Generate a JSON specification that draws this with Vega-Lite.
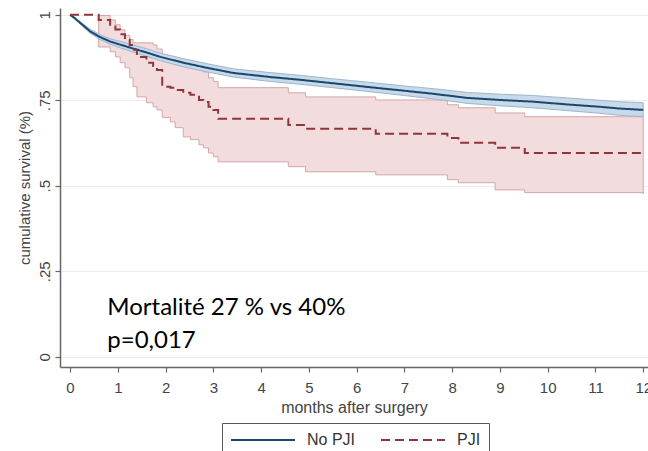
{
  "$schema": "https://vega.github.io/schema/vega-lite/v6.json",
  "width": 588,
  "height": 359,
  "autosize": {"type": "none"},
  "padding": {"left": 60, "top": 8, "right": 0, "bottom": 84},
  "background": "white",
  "config": {
    "view": {"stroke": null},
    "font": "Liberation Sans",
    "axis": {
      "labelFont": "Liberation Sans",
      "titleFont": "Liberation Sans",
      "labelFontSize": 15,
      "titleFontSize": 15,
      "labelColor": "#444",
      "titleColor": "#444",
      "titleFontWeight": "normal",
      "domainColor": "#666",
      "domainWidth": 1.5,
      "tickColor": "#666",
      "tickWidth": 1.2,
      "tickSize": 5
    }
  },
  "datasets": {
    "nopji": [
      {"group": "No PJI", "t": 0, "s": 1.0, "lo": 1.0, "hi": 1.0},
      {"group": "No PJI", "t": 0.1, "s": 0.99, "lo": 0.988, "hi": 0.992},
      {"group": "No PJI", "t": 0.25, "s": 0.972, "lo": 0.968, "hi": 0.976},
      {"group": "No PJI", "t": 0.42, "s": 0.952, "lo": 0.946, "hi": 0.958},
      {"group": "No PJI", "t": 0.63, "s": 0.935, "lo": 0.928, "hi": 0.942},
      {"group": "No PJI", "t": 0.84, "s": 0.922, "lo": 0.914, "hi": 0.930},
      {"group": "No PJI", "t": 1.0, "s": 0.915, "lo": 0.906, "hi": 0.924},
      {"group": "No PJI", "t": 1.26, "s": 0.904, "lo": 0.894, "hi": 0.914},
      {"group": "No PJI", "t": 1.6, "s": 0.89, "lo": 0.879, "hi": 0.901},
      {"group": "No PJI", "t": 1.89, "s": 0.877, "lo": 0.866, "hi": 0.888},
      {"group": "No PJI", "t": 2.37, "s": 0.86, "lo": 0.848, "hi": 0.872},
      {"group": "No PJI", "t": 2.87, "s": 0.845, "lo": 0.833, "hi": 0.857},
      {"group": "No PJI", "t": 3.42, "s": 0.83, "lo": 0.818, "hi": 0.842},
      {"group": "No PJI", "t": 4.2, "s": 0.818, "lo": 0.805, "hi": 0.831},
      {"group": "No PJI", "t": 4.82, "s": 0.81, "lo": 0.797, "hi": 0.823},
      {"group": "No PJI", "t": 5.5, "s": 0.8, "lo": 0.787, "hi": 0.813},
      {"group": "No PJI", "t": 6.23, "s": 0.789, "lo": 0.776, "hi": 0.803},
      {"group": "No PJI", "t": 7.0, "s": 0.778, "lo": 0.764, "hi": 0.792},
      {"group": "No PJI", "t": 7.61, "s": 0.769, "lo": 0.754, "hi": 0.784},
      {"group": "No PJI", "t": 8.32, "s": 0.757, "lo": 0.741, "hi": 0.773},
      {"group": "No PJI", "t": 9.0, "s": 0.751, "lo": 0.734, "hi": 0.768},
      {"group": "No PJI", "t": 9.7, "s": 0.746, "lo": 0.728, "hi": 0.764},
      {"group": "No PJI", "t": 10.4, "s": 0.738, "lo": 0.720, "hi": 0.757},
      {"group": "No PJI", "t": 11.1, "s": 0.731, "lo": 0.712, "hi": 0.750},
      {"group": "No PJI", "t": 11.5, "s": 0.726, "lo": 0.706, "hi": 0.746},
      {"group": "No PJI", "t": 12.0, "s": 0.722, "lo": 0.702, "hi": 0.743}
    ],
    "pji": [
      {"group": "PJI", "t": 0, "s": 1.0, "lo": null, "hi": null},
      {"group": "PJI", "t": 0.6, "s": 0.985, "lo": 0.906, "hi": 0.998},
      {"group": "PJI", "t": 0.84, "s": 0.971, "lo": 0.892, "hi": 0.985},
      {"group": "PJI", "t": 0.95, "s": 0.957, "lo": 0.877, "hi": 0.971},
      {"group": "PJI", "t": 1.05, "s": 0.943, "lo": 0.86, "hi": 0.956},
      {"group": "PJI", "t": 1.15, "s": 0.927, "lo": 0.845, "hi": 0.94},
      {"group": "PJI", "t": 1.25, "s": 0.912, "lo": 0.816, "hi": 0.928},
      {"group": "PJI", "t": 1.32, "s": 0.898, "lo": 0.79, "hi": 0.918},
      {"group": "PJI", "t": 1.4, "s": 0.877, "lo": 0.76, "hi": 0.918},
      {"group": "PJI", "t": 1.6, "s": 0.86, "lo": 0.743, "hi": 0.918},
      {"group": "PJI", "t": 1.74, "s": 0.85, "lo": 0.731, "hi": 0.912},
      {"group": "PJI", "t": 1.82, "s": 0.839, "lo": 0.722, "hi": 0.9},
      {"group": "PJI", "t": 1.93, "s": 0.79, "lo": 0.7, "hi": 0.88},
      {"group": "PJI", "t": 2.1, "s": 0.787, "lo": 0.687, "hi": 0.863},
      {"group": "PJI", "t": 2.2, "s": 0.78, "lo": 0.67, "hi": 0.863},
      {"group": "PJI", "t": 2.37, "s": 0.772, "lo": 0.643, "hi": 0.855},
      {"group": "PJI", "t": 2.52, "s": 0.766, "lo": 0.635, "hi": 0.848},
      {"group": "PJI", "t": 2.7, "s": 0.751, "lo": 0.62, "hi": 0.84},
      {"group": "PJI", "t": 2.79, "s": 0.745, "lo": 0.611, "hi": 0.833},
      {"group": "PJI", "t": 2.9, "s": 0.731, "lo": 0.596, "hi": 0.816},
      {"group": "PJI", "t": 3.0, "s": 0.722, "lo": 0.585, "hi": 0.805},
      {"group": "PJI", "t": 3.1, "s": 0.696, "lo": 0.57, "hi": 0.787},
      {"group": "PJI", "t": 4.57, "s": 0.678, "lo": 0.556, "hi": 0.772},
      {"group": "PJI", "t": 4.93, "s": 0.667, "lo": 0.541, "hi": 0.76},
      {"group": "PJI", "t": 6.4, "s": 0.652, "lo": 0.532, "hi": 0.751},
      {"group": "PJI", "t": 7.9, "s": 0.64, "lo": 0.518, "hi": 0.737},
      {"group": "PJI", "t": 8.13, "s": 0.626, "lo": 0.509, "hi": 0.728},
      {"group": "PJI", "t": 8.9, "s": 0.611, "lo": 0.488, "hi": 0.713},
      {"group": "PJI", "t": 9.52, "s": 0.596, "lo": 0.48, "hi": 0.702},
      {"group": "PJI", "t": 12.0, "s": 0.596, "lo": 0.476, "hi": 0.702}
    ],
    "notes": [
      {"label": "Mortalité 27 % vs 40%", "month": 0.78, "surv": 0.123},
      {"label": "p=0,017", "month": 0.78, "surv": 0.027}
    ]
  },
  "encoding": {
    "x": {
      "field": "t",
      "type": "quantitative",
      "scale": {"domain": [-0.21, 12.1], "nice": false, "zero": false},
      "axis": {
        "title": "months after surgery",
        "titleFontSize": 16,
        "values": [0,1,2,3,4,5,6,7,8,9,10,11,12],
        "format": "d",
        "grid": false,
        "labelPadding": 8,
        "titlePadding": 4,
        "labelFlush": false
      }
    }
  },
  "layer": [
    {
      "data": {"name": "pji"},
      "mark": {"type": "area", "interpolate": "step-after", "fill": "#f2dcdd", "stroke": "#d6a6a8", "strokeWidth": 1},
      "encoding": {
        "y": {
          "field": "lo", "type": "quantitative",
          "scale": {"domain": [-0.03, 1.02], "nice": false, "zero": false},
          "axis": {"title": "cumulative survival (%)", "values": [0, 0.25, 0.5, 0.75, 1], "labelExpr": "datum.value == 0 ? '0' : datum.value == 1 ? '1' : replace(format(datum.value, '.2~f'), '0.', '.')", "labelAngle": -90, "grid": true, "gridColor": "#ececec", "gridWidth": 1, "labelPadding": 3, "titlePadding": 5}
        },
        "y2": {"field": "hi"}
      }
    },
    {
      "data": {"name": "nopji"},
      "mark": {"type": "area", "fill": "#c8d9e8", "stroke": "#9ab7d0", "strokeWidth": 1},
      "encoding": {
        "y": {
          "field": "lo", "type": "quantitative",
          "scale": {"domain": [-0.03, 1.02], "nice": false, "zero": false},
          "axis": {"title": "cumulative survival (%)", "values": [0, 0.25, 0.5, 0.75, 1], "labelExpr": "datum.value == 0 ? '0' : datum.value == 1 ? '1' : replace(format(datum.value, '.2~f'), '0.', '.')", "labelAngle": -90, "grid": true, "gridColor": "#ececec", "gridWidth": 1, "labelPadding": 3, "titlePadding": 5}
        },
        "y2": {"field": "hi"}
      }
    },
    {
      "data": {"name": "nopji"},
      "mark": {"type": "line", "strokeWidth": 2},
      "encoding": {
        "y": {
          "field": "s", "type": "quantitative",
          "scale": {"domain": [-0.03, 1.02], "nice": false, "zero": false},
          "axis": {"title": "cumulative survival (%)", "values": [0, 0.25, 0.5, 0.75, 1], "labelExpr": "datum.value == 0 ? '0' : datum.value == 1 ? '1' : replace(format(datum.value, '.2~f'), '0.', '.')", "labelAngle": -90, "grid": true, "gridColor": "#ececec", "gridWidth": 1, "labelPadding": 3, "titlePadding": 5}
        },
        "color": {
          "field": "group", "type": "nominal",
          "scale": {"domain": ["No PJI", "PJI"], "range": ["#1a476f", "#90353b"]},
          "legend": {"title": null, "orient": "none", "legendX": 162, "legendY": 415, "direction": "horizontal", "strokeColor": "#555", "fillColor": "white", "padding": 8, "symbolType": "M-1,0H7", "symbolSize": 256, "symbolStrokeWidth": 2, "labelFont": "Liberation Sans", "labelFontSize": 16, "labelColor": "#333", "labelOffset": 59, "columnPadding": 21}
        },
        "strokeDash": {
          "field": "group", "type": "nominal",
          "scale": {"domain": ["No PJI", "PJI"], "range": [[1, 0], [9, 5]]},
          "legend": {"title": null, "orient": "none", "legendX": 162, "legendY": 415, "direction": "horizontal", "strokeColor": "#555", "fillColor": "white", "padding": 8, "symbolType": "M-1,0H7", "symbolSize": 256, "symbolStrokeWidth": 2, "labelFont": "Liberation Sans", "labelFontSize": 16, "labelColor": "#333", "labelOffset": 59, "columnPadding": 21}
        }
      }
    },
    {
      "data": {"name": "pji"},
      "mark": {"type": "line", "interpolate": "step-after", "strokeWidth": 2},
      "encoding": {
        "y": {
          "field": "s", "type": "quantitative",
          "scale": {"domain": [-0.03, 1.02], "nice": false, "zero": false},
          "axis": {"title": "cumulative survival (%)", "values": [0, 0.25, 0.5, 0.75, 1], "labelExpr": "datum.value == 0 ? '0' : datum.value == 1 ? '1' : replace(format(datum.value, '.2~f'), '0.', '.')", "labelAngle": -90, "grid": true, "gridColor": "#ececec", "gridWidth": 1, "labelPadding": 3, "titlePadding": 5}
        },
        "color": {"field": "group", "type": "nominal"},
        "strokeDash": {"field": "group", "type": "nominal"}
      }
    },
    {
      "data": {"name": "notes"},
      "mark": {"type": "text", "align": "left", "baseline": "alphabetic", "font": "Lato", "fontSize": 24, "color": "#000"},
      "encoding": {
        "x": {"field": "month", "type": "quantitative"},
        "y": {
          "field": "surv", "type": "quantitative",
          "scale": {"domain": [-0.03, 1.02], "nice": false, "zero": false},
          "axis": {"title": "cumulative survival (%)", "values": [0, 0.25, 0.5, 0.75, 1], "labelExpr": "datum.value == 0 ? '0' : datum.value == 1 ? '1' : replace(format(datum.value, '.2~f'), '0.', '.')", "labelAngle": -90, "grid": true, "gridColor": "#ececec", "gridWidth": 1, "labelPadding": 3, "titlePadding": 5}
        },
        "text": {"field": "label"}
      }
    }
  ]
}
